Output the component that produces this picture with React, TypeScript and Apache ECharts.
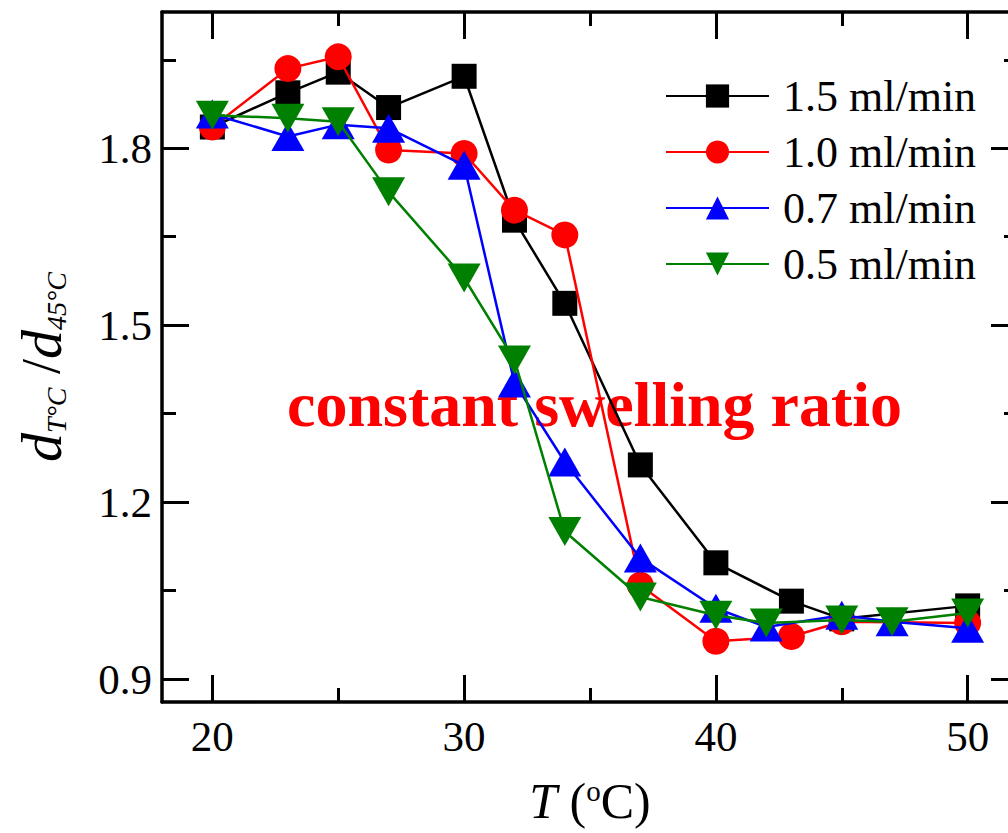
import React, { useEffect, useRef } from "react";
import * as echarts from "echarts";

// Temperatures (°C) and ratios d_T / d_45 for each flow rate
const temps15 = [20, 23, 25, 27, 30, 32, 34, 37, 40, 43, 45, 50];
const ratio15 = [1.836, 1.894, 1.929, 1.869, 1.922, 1.678, 1.537, 1.263, 1.097, 1.032, 1.002, 1.024];
const temps10 = [20, 23, 25, 27, 30, 32, 34, 37, 40, 43, 45, 50];
const ratio10 = [1.836, 1.935, 1.955, 1.797, 1.791, 1.695, 1.653, 1.059, 0.964, 0.972, 0.997, 0.995];
const temps07 = [20, 23, 25, 27, 30, 32, 34, 37, 40, 42, 45, 47, 50];
const ratio07 = [1.858, 1.82, 1.84, 1.834, 1.771, 1.402, 1.268, 1.105, 1.02, 0.988, 1.008, 0.997, 0.986];
const temps05 = [20, 23, 25, 27, 30, 32, 34, 37, 40, 42, 45, 47, 50];
const ratio05 = [1.856, 1.851, 1.845, 1.726, 1.58, 1.441, 1.15, 1.039, 1.008, 0.995, 1.0, 0.997, 1.012];

const seriesNames = ["1.5 ml/min", "1.0 ml/min", "0.7 ml/min", "0.5 ml/min"];

const X_MAJOR = [20, 30, 40, 50];
const X_MINOR = [25, 35, 45];
const Y_MAJOR = [0.9, 1.2, 1.5, 1.8];
const Y_MINOR = [1.05, 1.35, 1.65, 1.95];

const X_MIN = 18;
const X_MAX = 52;
const Y_MIN = 0.861;
const Y_MAX = 2.031;

const FONT = "Liberation Serif";

const pairs = (xs: number[], ys: number[]) => xs.map((x, i) => [x, ys[i]]);

function App() {
  const ref = useRef<HTMLDivElement>(null);

  useEffect(() => {
    if (!ref.current) return;
    const chart = echarts.init(ref.current, null, { renderer: "svg" });

    const lineCol = "#000";
    const majorLen = 27;
    const minorLen = 14;

    const xAxisBase = (pos: string, ticks: number[], len: number, showLine: boolean, labels: boolean, extra: any = {}) => ({
      type: "value",
      position: pos,
      min: X_MIN,
      max: X_MAX,
      splitLine: { show: false },
      axisLine: { show: showLine, onZero: false, lineStyle: { color: lineCol, width: 3.5 } },
      axisTick: { show: true, inside: true, length: len, lineStyle: { color: lineCol, width: 3 }, customValues: ticks },
      axisLabel: labels
        ? { show: true, customValues: ticks, fontFamily: FONT, fontSize: 43, color: "#000", margin: 13 }
        : { show: false },
      ...extra,
    });

    const yAxisBase = (pos: string, ticks: number[], len: number, showLine: boolean, labels: boolean, extra: any = {}) => ({
      type: "value",
      position: pos,
      min: Y_MIN,
      max: Y_MAX,
      splitLine: { show: false },
      axisLine: { show: showLine, onZero: false, lineStyle: { color: lineCol, width: 3.5 } },
      axisTick: { show: true, inside: true, length: len, lineStyle: { color: lineCol, width: 3 }, customValues: ticks },
      axisLabel: labels
        ? {
            show: true,
            customValues: ticks,
            fontFamily: FONT,
            fontSize: 43,
            color: "#000",
            margin: 10,
            formatter: (v: number) => v.toFixed(1),
          }
        : { show: false },
      ...extra,
    });

    const colors = ["#000000", "#ff0000", "#0000ff", "#008000"];
    const symbols = ["rect", "circle", "triangle", "triangle"];
    const sizes: any[] = [25, 27, [33, 29], [33, 29]];
    const rotates = [0, 0, 0, 180];
    const datas = [pairs(temps15, ratio15), pairs(temps10, ratio10), pairs(temps07, ratio07), pairs(temps05, ratio05)];

    const option: any = {
      animation: false,
      backgroundColor: "#fff",
      grid: {
        left: 162,
        top: 12,
        width: 856,
        height: 690,
        containLabel: false,
        outerBoundsMode: "none",
      },
      xAxis: [
        xAxisBase("bottom", X_MAJOR, majorLen, true, true, {
          name: "{i|T} ({s|o}C)",
          nameLocation: "middle",
          nameGap: 74,
          nameTextStyle: {
            fontFamily: FONT,
            fontSize: 50,
            color: "#000",
            lineHeight: 50,
            rich: {
              i: { fontFamily: FONT, fontSize: 50, fontStyle: "italic", color: "#000", lineHeight: 50 },
              s: { fontFamily: FONT, fontSize: 29, color: "#000", lineHeight: 29, verticalAlign: "top" },
            },
          },
        }),
        xAxisBase("bottom", X_MINOR, minorLen, false, false),
        xAxisBase("top", X_MAJOR, majorLen, true, false),
        xAxisBase("top", X_MINOR, minorLen, false, false),
      ],
      yAxis: [
        yAxisBase("left", Y_MAJOR, majorLen, true, true, {
          name: "{d|d}{s|T°C} /{d|d}{s|45°C}",
          nameLocation: "middle",
          nameRotate: 90,
          nameGap: 92,
          nameTextStyle: {
            fontFamily: FONT,
            fontSize: 54,
            color: "#000",
            lineHeight: 58,
            padding: [0, 20, 0, 0],
            rich: {
              d: { fontFamily: FONT, fontSize: 58, fontStyle: "italic", color: "#000", lineHeight: 58, verticalAlign: "middle" },
              s: { fontFamily: FONT, fontSize: 28, fontStyle: "italic", color: "#000", lineHeight: 28, verticalAlign: "bottom" },
            },
          },
        }),
        yAxisBase("left", Y_MINOR, minorLen, false, false),
        yAxisBase("right", Y_MAJOR, majorLen, true, false),
        yAxisBase("right", Y_MINOR, minorLen, false, false),
      ],
      legend: {
        orient: "vertical",
        left: 660,
        top: 69,
        itemWidth: 103,
        itemHeight: 29,
        itemGap: 12,
        textStyle: { fontFamily: FONT, fontSize: 44, color: "#000", lineHeight: 29, padding: [0, 0, 0, 9] },
        data: seriesNames,
      },
      graphic: [
        {
          type: "text",
          x: 287,
          y: 404,
          z: 1,
          style: {
            text: "constant swelling ratio",
            fill: "#ff0000",
            font: 'bold 64px "Liberation Serif"',
            verticalAlign: "middle",
            align: "left",
          },
        },
      ],
      series: seriesNames.map((name, i) => ({
        name,
        type: "line",
        xAxisIndex: 0,
        yAxisIndex: 0,
        data: datas[i],
        symbol: symbols[i],
        symbolSize: sizes[i],
        symbolRotate: rotates[i],
        showAllSymbol: true,
        z: 3 + i,
        lineStyle: { color: colors[i], width: 2.5 },
        itemStyle: { color: colors[i], borderWidth: 0 },
      })),
    };

    chart.setOption(option);
    return () => chart.dispose();
  }, []);

  return (
    <div
      ref={ref}
      style={{ position: "fixed", left: 0, top: 0, width: 1008, height: 833, background: "#fff" }}
    />
  );
}

export default App;
